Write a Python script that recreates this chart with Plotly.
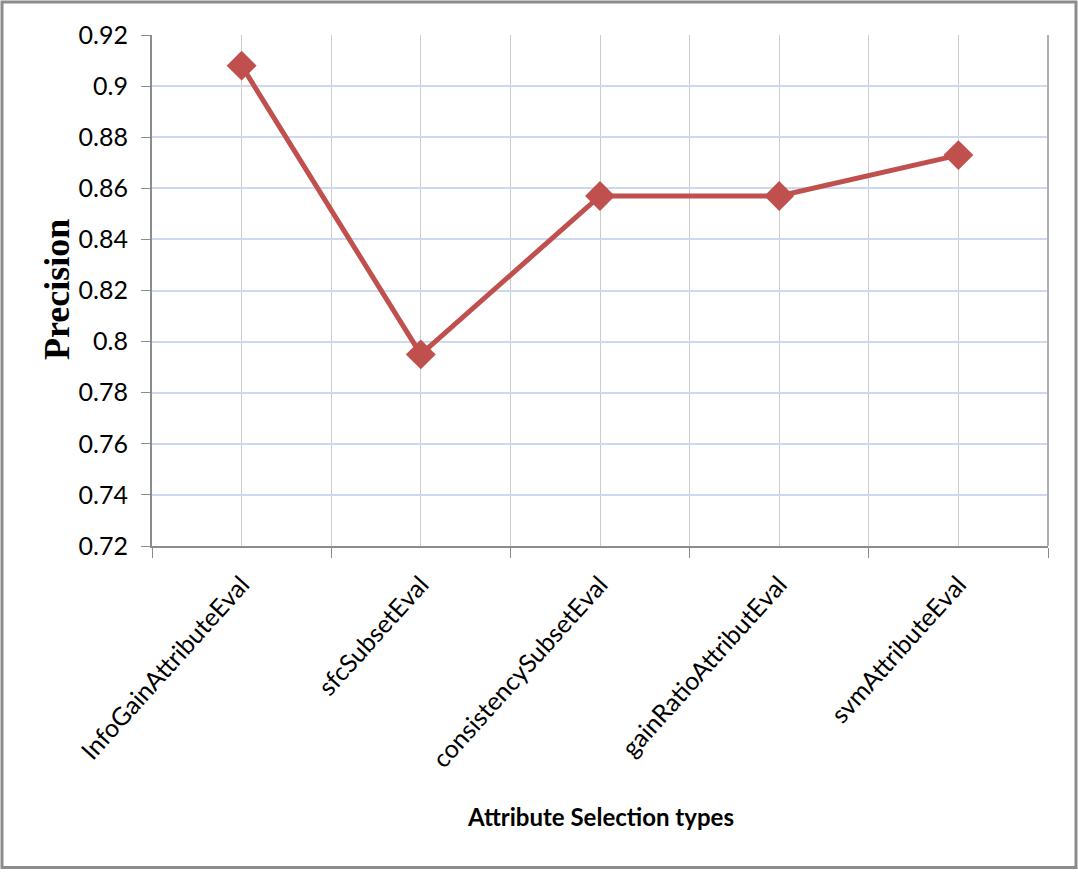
import plotly.graph_objects as go

categories = ["InfoGainAttributeEval", "sfcSubsetEval", "consistencySubsetEval",
              "gainRatioAttributEval", "svmAttributeEval"]
precision = [0.908, 0.795, 0.857, 0.857, 0.873]
y_ticks = [0.72, 0.74, 0.76, 0.78, 0.80, 0.82, 0.84, 0.86, 0.88, 0.90, 0.92]
y_tick_labels = ["0.72", "0.74", "0.76", "0.78", "0.8", "0.82", "0.84", "0.86", "0.88", "0.9", "0.92"]

xpos = list(range(len(categories)))
bounds = [i - 0.5 for i in range(len(categories) + 1)]

W, H = 1078, 872
L, R, T, B = 152, 30, 35, 326
pw, ph = W - L - R, H - T - B

fig = go.Figure()
fig.add_trace(go.Scatter(
    x=xpos, y=precision, mode="lines+markers",
    line=dict(color="#C0504D", width=5),
    marker=dict(symbol="diamond", size=23, color="#C0504D"),
    showlegend=False, cliponaxis=False,
))

def px_x(p):
    return (p - L) / pw

def px_y(p):
    return (H - B - p) / ph

fig.add_shape(type="rect", xref="paper", yref="paper",
              x0=px_x(2), x1=px_x(1076), y0=px_y(867.5), y1=px_y(2),
              line=dict(color="#8c8c8c", width=3), fillcolor="rgba(0,0,0,0)", layer="below")

fig.add_annotation(text="<b>Attribute Selection types</b>", xref="paper", yref="paper",
                   x=px_x(600), y=px_y(816), showarrow=False,
                   font=dict(family="Lato", size=24, color="black"),
                   xanchor="center", yanchor="middle")

fig.add_annotation(text="<b>Precision</b>", xref="paper", yref="paper",
                   x=px_x(57), y=px_y(290), showarrow=False, textangle=-90,
                   font=dict(family="Liberation Serif", size=36, color="black"),
                   xanchor="center", yanchor="middle")

fig.update_layout(
    width=W, height=H,
    margin=dict(l=L, r=R, t=T, b=B),
    paper_bgcolor="white", plot_bgcolor="white",
    font=dict(family="Lato", color="black"),
    xaxis=dict(
        range=[-0.5, len(categories) - 0.5],
        tickmode="array", tickvals=xpos, ticktext=categories,
        tickangle=-48, tickfont=dict(family="Lato", size=25),
        ticklabelstandoff=12,
        showgrid=True, gridcolor="#cccccc", gridwidth=1,
        ticks="", showline=True, linecolor="#8c8c8c", linewidth=2,
        mirror=False, zeroline=False,
        minor=dict(tickmode="array", tickvals=bounds, showgrid=True,
                   gridcolor="#cccccc", gridwidth=1, ticks="outside",
                   ticklen=10, tickcolor="#8c8c8c", tickwidth=1),
        fixedrange=True,
    ),
    yaxis=dict(
        range=[0.72, 0.92],
        tickmode="array", tickvals=y_ticks, ticktext=y_tick_labels,
        tickfont=dict(family="Lato", size=25),
        ticklabelstandoff=8,
        showgrid=True, gridcolor="#ccd9f0", gridwidth=2,
        ticks="outside", ticklen=9, tickcolor="#8c8c8c",
        showline=True, linecolor="#8c8c8c", linewidth=2, zeroline=False,
    ),
)
fig.add_shape(type="line", xref="paper", yref="paper", x0=1, x1=1, y0=0, y1=1,
              line=dict(color="#b0b0b0", width=2))

fig.write_html("out.html")
